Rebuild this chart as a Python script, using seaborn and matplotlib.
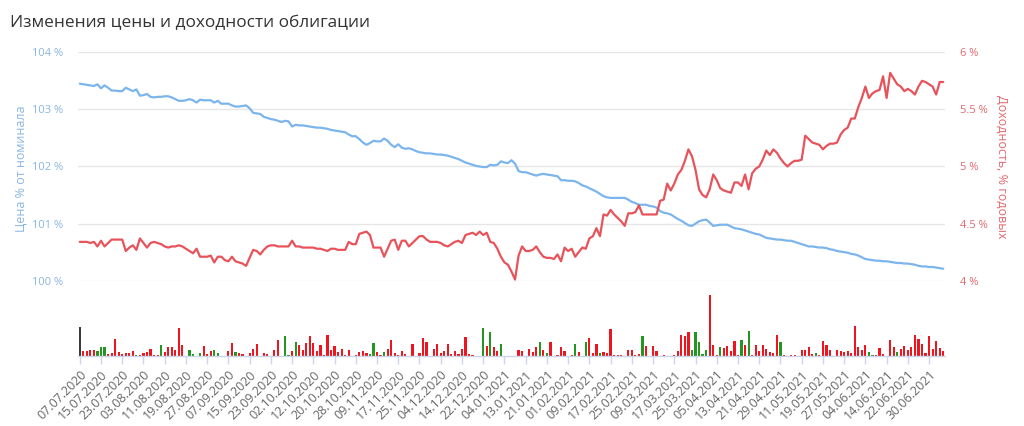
import numpy as np
import pandas as pd
import seaborn as sns
import matplotlib
matplotlib.use("Agg")
import matplotlib.pyplot as plt

# ---------------- data ----------------
tick_labels = [
    "07.07.2020", "15.07.2020", "23.07.2020", "03.08.2020", "11.08.2020", "19.08.2020",
    "27.08.2020", "07.09.2020", "15.09.2020", "23.09.2020", "02.10.2020", "12.10.2020",
    "20.10.2020", "28.10.2020", "09.11.2020", "17.11.2020", "25.11.2020", "04.12.2020",
    "14.12.2020", "22.12.2020", "04.01.2021", "13.01.2021", "21.01.2021", "01.02.2021",
    "09.02.2021", "17.02.2021", "25.02.2021", "09.03.2021", "17.03.2021", "25.03.2021",
    "05.04.2021", "13.04.2021", "21.04.2021", "29.04.2021", "11.05.2021", "19.05.2021",
    "27.05.2021", "04.06.2021", "14.06.2021", "22.06.2021", "30.06.2021",
]

price = [
    103.45, 103.44, 103.43, 103.42, 103.41, 103.44, 103.37, 103.42, 103.38, 103.33,
    103.33, 103.32, 103.32, 103.38, 103.35, 103.32, 103.35, 103.24, 103.25, 103.27,
    103.22, 103.21, 103.22, 103.22, 103.23, 103.23, 103.21, 103.18, 103.15, 103.15,
    103.16, 103.18, 103.16, 103.12, 103.17, 103.16, 103.16, 103.16, 103.12, 103.15,
    103.10, 103.10, 103.10, 103.07, 103.05, 103.05, 103.06, 103.07, 103.02, 102.94,
    102.93, 102.92, 102.87, 102.85, 102.83, 102.82, 102.80, 102.78, 102.80, 102.79,
    102.70, 102.73, 102.72, 102.72, 102.71, 102.70, 102.69, 102.68, 102.68, 102.67,
    102.66, 102.64, 102.63, 102.62, 102.61, 102.60, 102.56, 102.53, 102.53, 102.48,
    102.42, 102.38, 102.41, 102.45, 102.44, 102.44, 102.49, 102.45, 102.38, 102.34,
    102.39, 102.33, 102.31, 102.32, 102.30, 102.27, 102.25, 102.24, 102.23, 102.23,
    102.22, 102.21, 102.21, 102.20, 102.19, 102.17, 102.15, 102.13, 102.10, 102.07,
    102.05, 102.03, 102.01, 102.00, 101.99, 101.99, 102.03, 102.02, 102.03, 102.09,
    102.07, 102.06, 102.11, 102.05, 101.92, 101.90, 101.90, 101.88, 101.86, 101.84,
    101.86, 101.87, 101.86, 101.85, 101.84, 101.83, 101.76, 101.76, 101.75, 101.75,
    101.74, 101.71, 101.67, 101.65, 101.62, 101.59, 101.56, 101.52, 101.48, 101.46,
    101.45, 101.45, 101.45, 101.45, 101.45, 101.42, 101.38, 101.36, 101.33, 101.33,
    101.33, 101.31, 101.30, 101.28, 101.22, 101.19, 101.18, 101.16, 101.12, 101.08,
    101.05, 101.01, 100.97, 100.96, 101.00, 101.04, 101.06, 101.07, 101.02, 100.96,
    100.97, 100.98, 100.98, 100.98, 100.95, 100.92, 100.91, 100.90, 100.88, 100.86,
    100.84, 100.82, 100.81, 100.78, 100.75, 100.74, 100.73, 100.72, 100.72, 100.71,
    100.70, 100.70, 100.68, 100.66, 100.64, 100.62, 100.60, 100.60, 100.59, 100.58,
    100.58, 100.57, 100.55, 100.54, 100.52, 100.51, 100.50, 100.49, 100.47, 100.46,
    100.44, 100.41, 100.38, 100.37, 100.36, 100.35, 100.35, 100.34, 100.34, 100.33,
    100.32, 100.31, 100.31, 100.30, 100.30, 100.29, 100.28, 100.26, 100.25, 100.25,
    100.24, 100.24, 100.23, 100.22, 100.21,
]

yield_pct = [
    4.34, 4.34, 4.34, 4.33, 4.34, 4.30, 4.35, 4.30, 4.33, 4.36,
    4.36, 4.36, 4.36, 4.26, 4.29, 4.31, 4.27, 4.37, 4.33, 4.29,
    4.33, 4.34, 4.33, 4.32, 4.30, 4.29, 4.30, 4.30, 4.31, 4.30,
    4.28, 4.26, 4.24, 4.28, 4.21, 4.21, 4.21, 4.22, 4.16, 4.21,
    4.21, 4.18, 4.17, 4.21, 4.17, 4.16, 4.15, 4.13, 4.20, 4.27,
    4.26, 4.23, 4.27, 4.30, 4.31, 4.31, 4.30, 4.30, 4.30, 4.30,
    4.35, 4.30, 4.30, 4.29, 4.29, 4.29, 4.29, 4.28, 4.28, 4.27,
    4.26, 4.28, 4.28, 4.27, 4.27, 4.27, 4.34, 4.32, 4.32, 4.41,
    4.42, 4.43, 4.40, 4.29, 4.29, 4.29, 4.21, 4.28, 4.35, 4.36,
    4.27, 4.35, 4.35, 4.30, 4.33, 4.36, 4.39, 4.39, 4.36, 4.34,
    4.34, 4.34, 4.33, 4.31, 4.30, 4.32, 4.34, 4.35, 4.33, 4.40,
    4.41, 4.42, 4.40, 4.43, 4.40, 4.42, 4.34, 4.33, 4.28, 4.21,
    4.16, 4.14, 4.08, 4.01, 4.22, 4.30, 4.26, 4.26, 4.27, 4.30,
    4.25, 4.21, 4.20, 4.20, 4.19, 4.23, 4.17, 4.29, 4.26, 4.28,
    4.21, 4.25, 4.29, 4.28, 4.37, 4.39, 4.46, 4.39, 4.58, 4.57,
    4.62, 4.58, 4.55, 4.52, 4.48, 4.59, 4.59, 4.60, 4.66, 4.58,
    4.58, 4.58, 4.58, 4.58, 4.70, 4.71, 4.85, 4.79, 4.85, 4.93,
    4.97, 5.05, 5.15, 5.09, 4.97, 4.80, 4.75, 4.73, 4.80, 4.93,
    4.88, 4.81, 4.79, 4.78, 4.77, 4.86, 4.86, 4.83, 4.93, 4.80,
    4.94, 4.98, 5.00, 5.06, 5.14, 5.10, 5.15, 5.12, 5.07, 5.03,
    5.00, 5.03, 5.05, 5.05, 5.06, 5.27, 5.24, 5.21, 5.20, 5.19,
    5.15, 5.18, 5.20, 5.20, 5.21, 5.28, 5.32, 5.34, 5.42, 5.42,
    5.52, 5.60, 5.70, 5.60, 5.64, 5.66, 5.67, 5.79, 5.60, 5.82,
    5.77, 5.72, 5.70, 5.66, 5.68, 5.66, 5.63, 5.70, 5.75, 5.74,
    5.72, 5.70, 5.63, 5.74, 5.74,
]

volume = [
    85, 15, 15, 18, 16, 13, 25, 25, 6, 8,
    50, 11, 6, 8, 8, 13, 3, 3, 8, 10,
    21, 3, 3, 33, 11, 25, 25, 18, 83, 33,
    0, 18, 6, 0, 8, 28, 6, 15, 18, 8,
    0, 0, 13, 38, 10, 8, 6, 0, 8, 21,
    35, 0, 8, 6, 0, 18, 46, 0, 58, 3,
    15, 40, 31, 18, 38, 58, 38, 13, 31, 3,
    61, 18, 28, 11, 21, 3, 18, 0, 3, 11,
    15, 8, 6, 38, 10, 3, 10, 21, 46, 8,
    3, 13, 6, 0, 36, 0, 8, 53, 41, 0,
    21, 36, 8, 13, 36, 6, 15, 6, 20, 55,
    6, 3, 0, 0, 83, 28, 71, 25, 13, 36,
    0, 0, 0, 0, 18, 15, 0, 21, 11, 25,
    40, 18, 8, 41, 0, 3, 25, 13, 0, 3,
    36, 11, 0, 40, 53, 8, 36, 8, 10, 8,
    80, 3, 3, 3, 0, 16, 18, 3, 6, 60,
    28, 0, 28, 13, 0, 3, 0, 0, 3, 15,
    61, 58, 71, 18, 71, 40, 6, 18, 181, 31,
    3, 25, 23, 28, 13, 43, 3, 46, 33, 73,
    3, 31, 15, 31, 21, 11, 8, 61, 40, 3,
    0, 3, 3, 0, 18, 18, 25, 6, 8, 3,
    43, 31, 16, 0, 18, 13, 10, 13, 8, 88,
    26, 16, 31, 10, 3, 3, 23, 6, 0, 46,
    25, 10, 21, 28, 16, 25, 61, 50, 35, 8,
    58, 21, 43, 23, 13,
]

# days whose volume bar is green (the first bar is dark, the rest red)
green_days = [5, 6, 7, 16, 23, 31, 32, 34, 38, 39, 44, 58, 59, 61, 82, 83, 86,
              114, 116, 119, 130, 132, 140, 143, 147, 159, 173, 174, 175, 176,
              177, 181, 187, 189, 198, 208, 223, 224, 231]

# ---------------- assemble ----------------
n = len(price)
day = np.arange(n)
direction = ["r"] * n
direction[0] = "k"
for g in green_days:
    direction[g] = "g"

df = pd.DataFrame({"day": day, "price": price, "yield": yield_pct,
                   "volume": volume, "dir": direction})

BLUE = "#7cb5ec"
RED_LINE = "#e8535b"
BAR_COLORS = {"r": "#f0141e", "g": "#23961f", "k": "#3a3a3a"}
GRID = "#e6e6e6"

sns.set_theme(style="white")
plt.rcParams["font.family"] = ["Open Sans", "DejaVu Sans"]

W, H = 1024, 426
fig = plt.figure(figsize=(W / 100, H / 100), dpi=100)

left_px, right_px = 78, 945
top_px, bot_px = 52.3, 280.7
ax1 = fig.add_axes([left_px / W, 1 - bot_px / H, (right_px - left_px) / W, (bot_px - top_px) / H])
ax2 = ax1.twinx()
bar_top, bar_bot = 294.0, 355.7
ax3 = fig.add_axes([left_px / W, 1 - bar_bot / H, (right_px - left_px) / W, (bar_bot - bar_top) / H])

xlim = (-0.5, n - 0.5)

# lines
sns.lineplot(data=df, x="day", y="price", ax=ax1, color=BLUE, linewidth=1.6, zorder=3)
sns.lineplot(data=df, x="day", y="yield", ax=ax2, color=RED_LINE, linewidth=1.6, zorder=3)

ax1.set_xlim(*xlim)
ax2.set_xlim(*xlim)
ax1.set_ylim(100, 104)
ax2.set_ylim(4, 6)
ax1.set_yticks([100, 101, 102, 103, 104])
ax1.set_yticklabels(["100 %", "101 %", "102 %", "103 %", "104 %"])
ax2.set_yticks([4, 4.5, 5, 5.5, 6])
ax2.set_yticklabels(["4 %", "4.5 %", "5 %", "5.5 %", "6 %"])
ax1.set_xticks([])
ax2.set_xticks([])
ax1.set_xlabel("")
ax2.set_xlabel("")

ax1.grid(axis="y", color=GRID, linewidth=1)
ax1.set_axisbelow(True)
for a in (ax1, ax2):
    for s in a.spines.values():
        s.set_visible(False)
ax1.tick_params(axis="y", length=0, pad=11, labelsize=8, labelcolor="#8ab6e2")
ax2.tick_params(axis="y", length=0, pad=11, labelsize=8, labelcolor="#e06a70")

ax1.set_ylabel("Цена % от номинала", color="#8ab6e2", fontsize=9)
ax1.yaxis.set_label_coords(-0.058, 0.49)
ax2.set_ylabel("Доходность, % годовых", color="#e06a70", fontsize=9, rotation=270, va="bottom")
ax2.yaxis.set_label_coords(1.058, 0.5)

# volume bars
sns.barplot(data=df, x="day", y="volume", hue="dir", palette=BAR_COLORS,
            dodge=False, native_scale=True, width=0.62, legend=False, ax=ax3,
            saturation=1, linewidth=0)
ax3.set_xlim(*xlim)
ax3.set_ylim(0, max(volume) * 1.02)
ax3.set_yticks([])
ax3.set_ylabel("")
ax3.set_xlabel("")
for name, s in ax3.spines.items():
    s.set_visible(name == "bottom")
ax3.spines["bottom"].set_color("#ccd6eb")
ax3.spines["bottom"].set_linewidth(1)
tick_pos = day[::6][:len(tick_labels)]
ax3.set_xticks(tick_pos)
ax3.set_xticklabels(tick_labels, rotation=45, ha="right", rotation_mode="anchor")
ax3.tick_params(axis="x", length=6, width=1, color="#ccd6eb", pad=3,
                labelsize=9, labelcolor="#666666", bottom=True)

fig.text(10 / W, 1 - 23 / H, "Изменения цены и доходности облигации",
         fontsize=12.4, color="#333333", va="center", ha="left")

fig.savefig("out.png", dpi=100, facecolor="white")
